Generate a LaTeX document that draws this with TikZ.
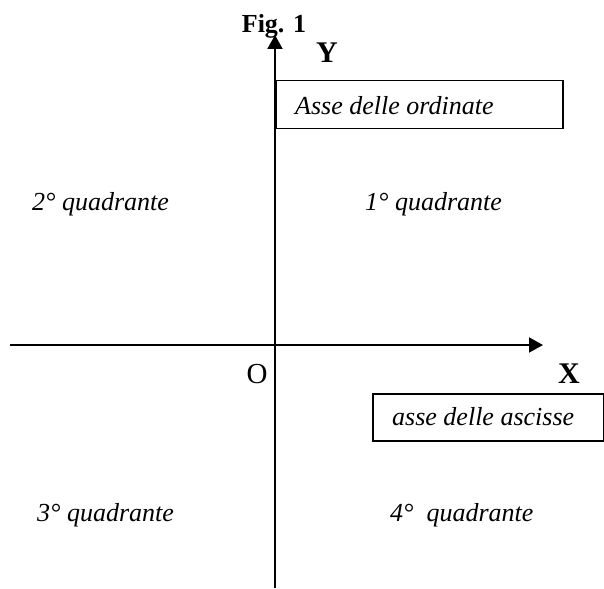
\documentclass[tikz,border=0pt]{standalone}
\usepackage{fontspec}
\setmainfont{Liberation Serif}
\usetikzlibrary{arrows.meta}
\begin{document}
\begin{tikzpicture}[x=1pt,y=-1pt,
  axisline/.style={line width=2pt,-{Triangle[length=14pt,width=15pt]}},
  boxframe/.style={draw,line width=1.5pt,inner sep=0pt,anchor=north west},
  lbl/.style={font=\fontsize{26}{30}\selectfont\itshape,inner sep=0pt,anchor=base west},
  bold/.style={font=\fontsize{30}{34}\selectfont\bfseries,inner sep=0pt,anchor=base},
  plain/.style={font=\fontsize{29}{33}\selectfont,inner sep=0pt,anchor=base}]
\useasboundingbox (0,0) rectangle (604,588);
% axes
\coordinate (ybot) at (275,588);
\coordinate (ytop) at (275,35);
\coordinate (xleft) at (10,345);
\coordinate (xright) at (543,345);
\draw[axisline] (ybot) -- (ytop);
\draw[axisline] (xleft) -- (xright);
% boxes
\node[boxframe,minimum width=287pt,minimum height=48pt] (ordbox) at (275,80) {};
\node[boxframe,minimum width=231pt,minimum height=47pt] (ascbox) at (372,393) {};
\node[lbl] (ordtxt) at (295,115) {Asse delle ordinate};
\node[lbl] (asctxt) at (392,425) {asse delle ascisse};
% titles
\node[font=\fontsize{26}{30}\selectfont\bfseries,inner sep=0pt,anchor=base] (fig) at (274,33) {Fig. 1};
\node[bold] (ylab) at (327,63) {Y};
\node[bold] (xlab) at (569,383) {X};
\node[plain] (olab) at (257,383) {O};
% quadrants
\node[lbl] (q1) at (365,210) {1° quadrante};
\node[lbl] (q2) at (32,210) {2° quadrante};
\node[lbl] (q3) at (37,521) {3° quadrante};
\node[lbl] (q4) at (390,521) {4°~~quadrante};
\end{tikzpicture}
\end{document}
